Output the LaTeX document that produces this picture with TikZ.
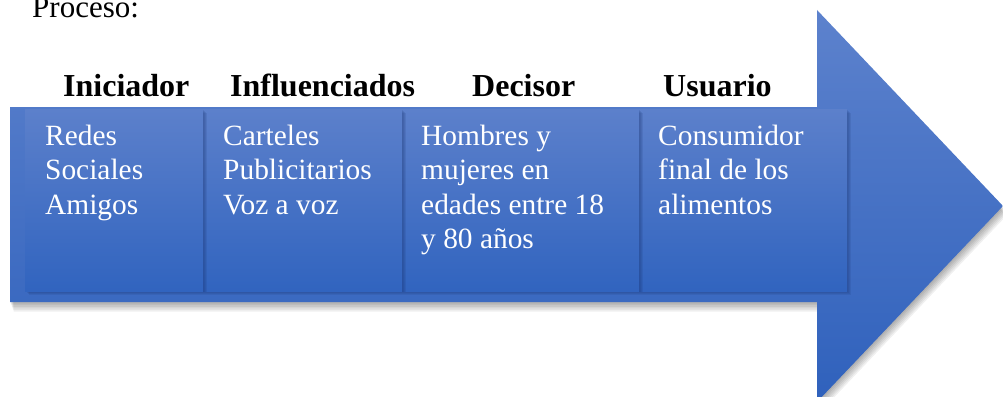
\documentclass[tikz,border=0pt]{standalone}
\usepackage{fontspec}
\setmainfont{Liberation Serif}
\definecolor{bluetop}{HTML}{5D82CD}
\definecolor{bluebot}{HTML}{2F61BC}
\definecolor{boxtop}{HTML}{5C80CB}
\definecolor{boxbot}{HTML}{3164BF}
\definecolor{shadowc}{HTML}{1B3470}
\tikzset{
  boxshape/.style={rectangle, inner sep=0pt, anchor=north west, top color=boxtop, bottom color=boxbot, draw=none},
  boxtext/.style={anchor=base west, inner sep=0pt, text=white, font=\fontsize{29.4}{34.5}\selectfont},
  heading/.style={anchor=base west, inner sep=0pt, font=\fontsize{32}{36}\selectfont\bfseries},
  plaintext/.style={anchor=base west, inner sep=0pt, font=\fontsize{31}{36}\selectfont},
}
\newcommand{\boxshadow}[4]{%
  \foreach \k in {1,...,4}{
    \fill[shadowc, opacity=0.13] ($(#1,#2)+(\k*0.9,\k*0.9)$) rectangle ++(#3,#4);
  }}
\usetikzlibrary{calc}
\begin{document}
\begin{tikzpicture}[x=1pt,y=-1pt]
\useasboundingbox (0,0) rectangle (1003,396);
\clip (0,0) rectangle (1003,396);
% arrow shadow
\foreach \k in {1,...,6}{
  \fill[black, opacity=0.06] ($(10,107)+(\k*0.6,\k*1.6)$) -- ++(807,0) -- ++(0,-97) -- ++(186,196) -- ++(-186,196) -- ++(0,-100) -- ++(-807,0) -- cycle;
}
% arrow
\path[top color=bluetop, bottom color=bluebot] (10,107) -- (817,107) -- (817,10) -- (1003,206) -- (817,402) -- (817,302) -- (10,302) -- cycle;
% title
\node[plaintext] (proc) at (32,18) {Proceso:};
% boxes, drawn right to left so each shadow falls on the next box
\boxshadow{639}{109}{208}{182}
\node[boxshape, minimum width=208pt, minimum height=182pt] (b4) at (639,109) {};
\boxshadow{402}{109}{237}{182}
\node[boxshape, minimum width=237pt, minimum height=182pt] (b3) at (402,109) {};
\boxshadow{203}{109}{199}{182}
\node[boxshape, minimum width=199pt, minimum height=182pt] (b2) at (203,109) {};
\boxshadow{25}{109}{178}{182}
\node[boxshape, minimum width=178pt, minimum height=182pt] (b1) at (25,109) {};
% headings
\node[heading] (h1) at (63,96) {Iniciador};
\node[heading] (h2) at (230,96) {Influenciados};
\node[heading] (h3) at (472,96) {Decisor};
\node[heading] (h4) at (663,96) {Usuario};
% box texts
\node[boxtext] (t1) at (45,145) {\parbox[t]{170pt}{\raggedright Redes\\Sociales\\Amigos}};
\node[boxtext] (t2) at (223,145) {\parbox[t]{170pt}{\raggedright Carteles\\Publicitarios\\Voz a voz}};
\node[boxtext] (t3) at (421,145) {\parbox[t]{215pt}{\raggedright Hombres y\\mujeres en\\edades entre 18\\y 80 años}};
\node[boxtext] (t4) at (658,145) {\parbox[t]{190pt}{\raggedright Consumidor\\final de los\\alimentos}};
\end{tikzpicture}
\end{document}
